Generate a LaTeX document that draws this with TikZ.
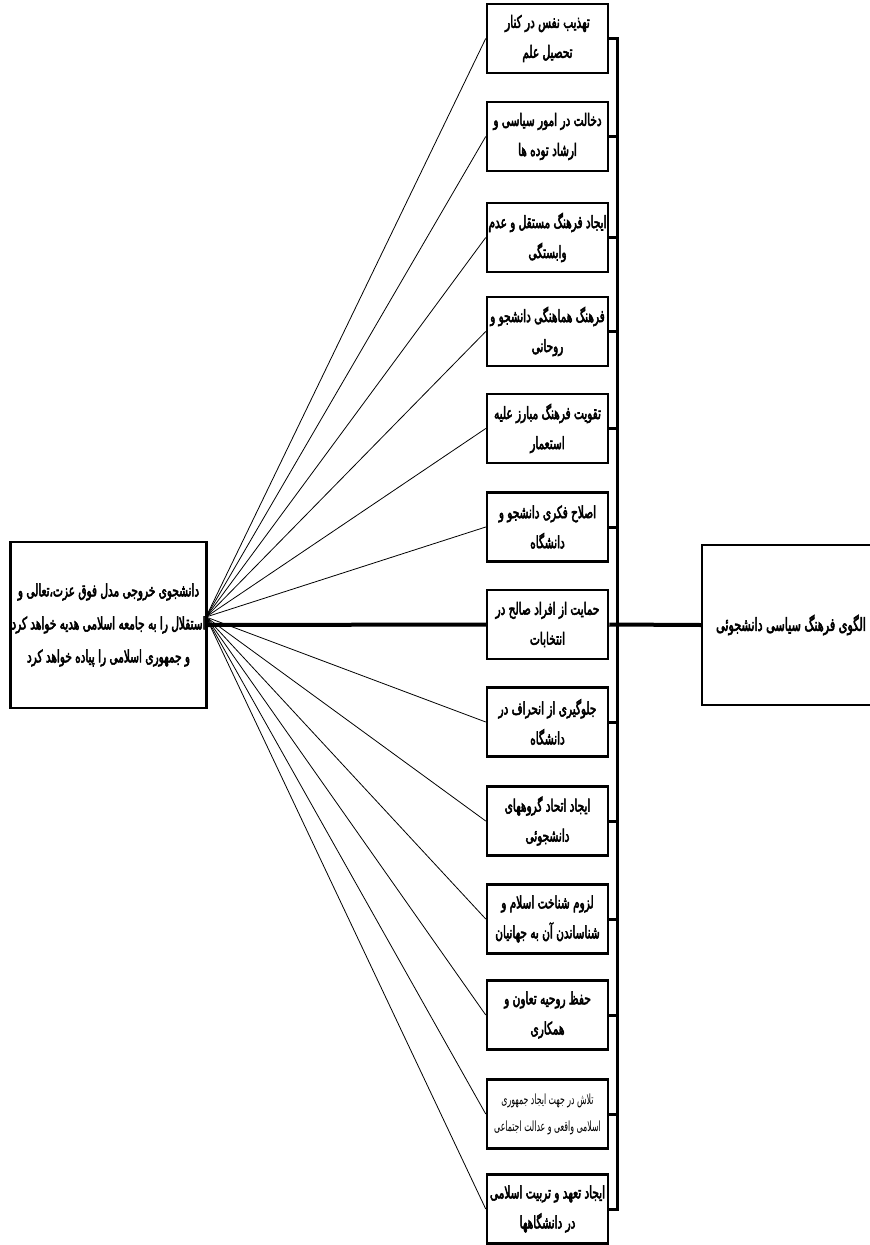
\documentclass[tikz,border=0pt]{standalone}
\usepackage{fontspec}
\TeXXeTstate=1
\newfontfamily\farsib[Script=Arabic,FakeBold=3,FakeStretch=0.62]{DejaVu Sans}
\newfontfamily\farsi[Script=Arabic,FakeStretch=0.56]{DejaVu Sans}
\newcommand{\rl}[1]{\beginR #1\endR}
\begin{document}
\begin{tikzpicture}[x=1pt, y=-1pt,
  box/.style={draw, line width=2.5pt, minimum width=121pt, minimum height=69pt, inner sep=1pt, align=center, font={\farsib\fontsize{17}{30}\selectfont}},
  stub/.style={line width=3pt},
  heavy/.style={line width=4pt}]
\useasboundingbox (0,0) rectangle (870,1245);
\node[box] (A) at (547.5, 38.5) {\rl{تهذیب نفس در کنار}\\\rl{تحصیل علم}};
\node[box] (B) at (547.5, 136.5) {\rl{دخالت در امور سیاسی و}\\\rl{ارشاد توده ها}};
\node[box] (C) at (547.5, 237.5) {\rl{ایجاد فرهنگ مستقل و عدم}\\\rl{وابستگی}};
\node[box] (D) at (547.5, 331.5) {\rl{فرهنگ هماهنگی دانشجو و}\\\rl{روحانی}};
\node[box] (E) at (547.5, 428.5) {\rl{تقویت فرهنگ مبارز علیه}\\\rl{استعمار}};
\node[box] (F) at (547.5, 527) {\rl{اصلاح فکری دانشجو و}\\\rl{دانشگاه}};
\node[box] (G) at (547.5, 624.5) {\rl{حمایت از افراد صالح در}\\\rl{انتخابات}};
\node[box] (H) at (547.5, 722) {\rl{جلوگیری از انحراف در}\\\rl{دانشگاه}};
\node[box] (I) at (547.5, 821) {\rl{ایجاد اتحاد گروههای}\\\rl{دانشجوئی}};
\node[box] (J) at (547.5, 919) {\rl{لزوم شناخت اسلام و}\\\rl{شناساندن آن به جهانیان}};
\node[box] (K) at (547.5, 1015) {\rl{حفظ روحیه تعاون و}\\\rl{همکاری}};
\node[box, font={\farsi\fontsize{14}{27}\selectfont}] (L) at (547.5, 1114) {\rl{تلاش در جهت ایجاد جمهوری}\\\rl{اسلامی واقعی و عدالت اجتماعی}};
\node[box] (M) at (547.5, 1209) {\rl{ایجاد تعهد و تربیت اسلامی}\\\rl{در دانشگاهها}};

\node[draw, line width=2.5pt, minimum width=195pt, minimum height=166pt, inner sep=1pt, align=center, font={\farsib\fontsize{17}{33}\selectfont}] (S) at (108.5, 625) {\rl{دانشجوی خروجی مدل فوق عزت،تعالی و}\\\rl{استقلال را به جامعه اسلامی هدیه خواهد کرد}\\\rl{و جمهوری اسلامی را پیاده خواهد کرد}};
\node[draw, line width=1.5pt, minimum width=178pt, minimum height=160pt, font={\farsib\fontsize{18}{30}\selectfont}] (P) at (791, 625) {\rl{الگوی فرهنگ سیاسی دانشجوئی}};

\coordinate (hub) at (206, 617);
\coordinate (bus) at (617, 625);

\draw[line width=0.8pt] (hub) -- (A.west);
\draw[line width=0.8pt] (hub) -- (B.west);
\draw[line width=0.8pt] (hub) -- (C.west);
\draw[line width=0.8pt] (hub) -- (D.west);
\draw[line width=0.8pt] (hub) -- (E.west);
\draw[line width=0.8pt] (hub) -- (F.west);
\draw[line width=0.8pt] (hub) -- (H.west);
\draw[line width=0.8pt] (hub) -- (I.west);
\draw[line width=0.8pt] (hub) -- (J.west);
\draw[line width=0.8pt] (hub) -- (K.west);
\draw[line width=0.8pt] (hub) -- (L.west);
\draw[line width=0.8pt] (hub) -- (M.west);
\draw[heavy] (S.east) -- (G.west);

\draw[stub] (A.east) -- (A.east -| bus) -- (M.east -| bus) -- (M.east);
\draw[stub] (B.east) -- (B.east -| bus);
\draw[stub] (C.east) -- (C.east -| bus);
\draw[stub] (D.east) -- (D.east -| bus);
\draw[stub] (E.east) -- (E.east -| bus);
\draw[stub] (F.east) -- (F.east -| bus);
\draw[stub] (H.east) -- (H.east -| bus);
\draw[stub] (I.east) -- (I.east -| bus);
\draw[stub] (J.east) -- (J.east -| bus);
\draw[stub] (K.east) -- (K.east -| bus);
\draw[stub] (L.east) -- (L.east -| bus);
\draw[heavy] (G.east) -- (P.west);
\end{tikzpicture}
\end{document}
